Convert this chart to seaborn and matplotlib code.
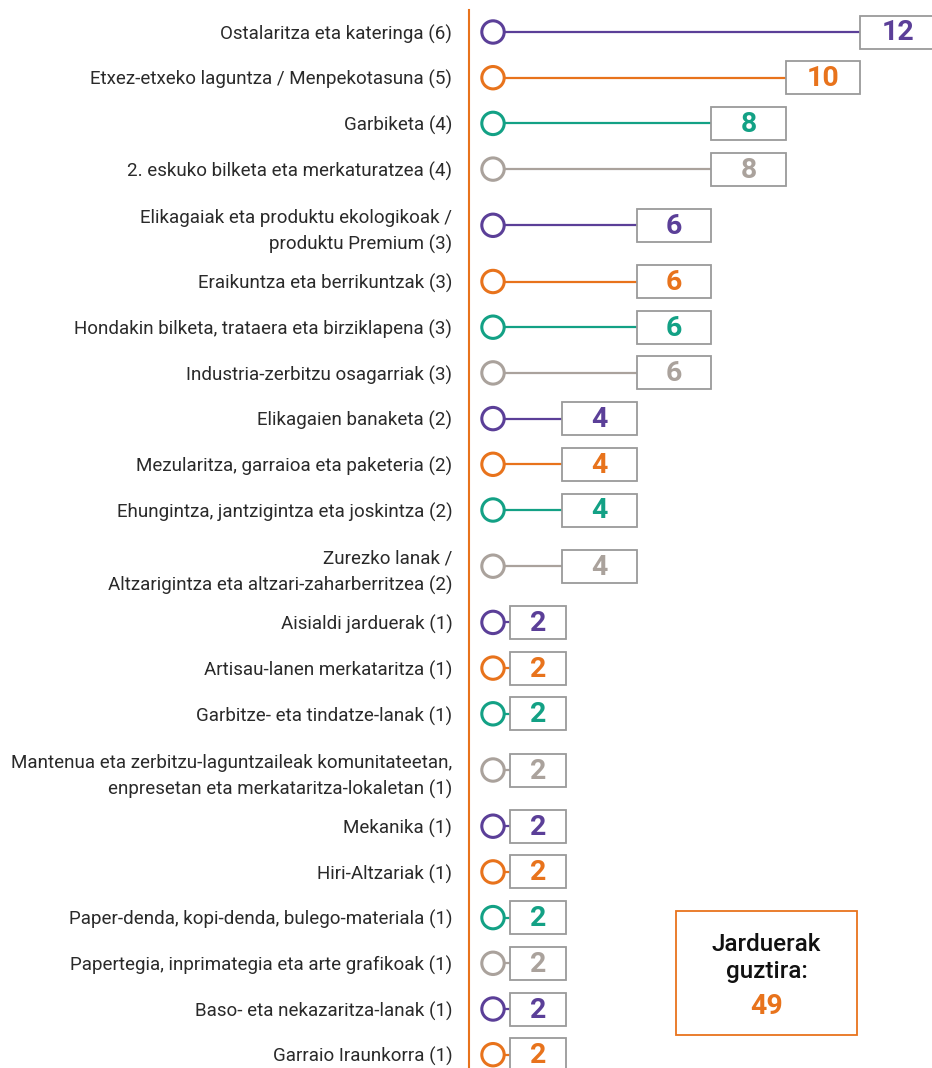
import numpy as np
import pandas as pd
import matplotlib
matplotlib.use("Agg")
import matplotlib.pyplot as plt
from matplotlib.patches import Rectangle
import seaborn as sns

categories = [
    "Ostalaritza eta kateringa (6)",
    "Etxez-etxeko laguntza / Menpekotasuna (5)",
    "Garbiketa (4)",
    "2. eskuko bilketa eta merkaturatzea (4)",
    "Elikagaiak eta produktu ekologikoak /\nproduktu Premium (3)",
    "Eraikuntza eta berrikuntzak (3)",
    "Hondakin bilketa, trataera eta birziklapena (3)",
    "Industria-zerbitzu osagarriak (3)",
    "Elikagaien banaketa (2)",
    "Mezularitza, garraioa eta paketeria (2)",
    "Ehungintza, jantzigintza eta joskintza (2)",
    "Zurezko lanak /\nAltzarigintza eta altzari-zaharberritzea (2)",
    "Aisialdi jarduerak (1)",
    "Artisau-lanen merkataritza (1)",
    "Garbitze- eta tindatze-lanak (1)",
    "Mantenua eta zerbitzu-laguntzaileak komunitateetan,\nenpresetan eta merkataritza-lokaletan (1)",
    "Mekanika (1)",
    "Hiri-Altzariak (1)",
    "Paper-denda, kopi-denda, bulego-materiala (1)",
    "Papertegia, inprimategia eta arte grafikoak (1)",
    "Baso- eta nekazaritza-lanak (1)",
    "Garraio Iraunkorra (1)",
]
values = [12, 10, 8, 8, 6, 6, 6, 6, 4, 4, 4, 4, 2, 2, 2, 2, 2, 2, 2, 2, 2, 2]
total_label = "Jarduerak\nguztira:"
total_value = 49

palette = ["#5b3f98", "#e8731c", "#13a185", "#aaa29c"]
colors = [palette[i % 4] for i in range(len(values))]

# layout: vertical positions depend on number of lines per label
nlines = [c.count("\n") + 1 for c in categories]
ypos = [0.0]
for i in range(1, len(categories)):
    gap = 45.7 + 10.5 * ((nlines[i - 1] - 1) + (nlines[i] - 1))
    ypos.append(ypos[-1] + gap)
ypos = np.array(ypos)

df = pd.DataFrame({"cat": categories, "val": values, "y": ypos, "color": colors})

W, H = 932, 1068
fig = plt.figure(figsize=(W / 100, H / 100), dpi=100)
sns.set_style("white")
plt.rcParams["font.family"] = ["Roboto", "DejaVu Sans"]

ax_left_px = 469
ax_top_px = 10
ax = fig.add_axes([ax_left_px / W, 0, 1 - ax_left_px / W, 1 - ax_top_px / H])

# x scale: pixel = 488 + 37.24 * value
x0, k = 488.0, 37.24
ax.set_xlim((ax_left_px - x0) / k, (W - x0) / k)
ax.set_ylim(H - ax_top_px - 22, -22)

circle_x = (493 - x0) / k
box_w = 2.0
box_min_left = (510 - x0) / k
box_h = 33

for _, r in df.iterrows():
    left = max(r.val - box_w, box_min_left)
    right = max(r.val, (566 - x0) / k)
    ax.plot([circle_x, left], [r.y, r.y], color=r.color, lw=1.6, zorder=1,
            solid_capstyle="butt")
    ax.add_patch(Rectangle((left, r.y - box_h / 2), right - left, box_h,
                           facecolor="white", edgecolor="#9a9a9a", lw=1.3, zorder=2,
                           clip_on=False))
    ax.text((left + right) / 2, r.y + 1, str(r.val), ha="center", va="center",
            fontsize=20.5, fontweight="bold", color=r.color, zorder=3)

sns.scatterplot(data=df.assign(cx=circle_x), x="cx", y="y", hue="cat",
                palette=dict(zip(df.cat, df.color)), ax=ax, legend=False,
                s=260, facecolor="white", linewidth=2.2, zorder=4)
coll = ax.collections[-1]
coll.set_edgecolors(df.color.tolist())
coll.set_facecolors("white")

ax.set_yticks(ypos)
ax.set_yticklabels(categories, fontsize=13.5, color="#2a2a2a", linespacing=1.55)
ax.tick_params(axis="y", length=0, pad=12)
ax.set_xticks([])
ax.set_xlabel("")
ax.set_ylabel("")
for s in ["top", "right", "bottom"]:
    ax.spines[s].set_visible(False)
ax.spines["left"].set_color("#e8731c")
ax.spines["left"].set_linewidth(1.5)

# total box
bx0, by0, bx1, by1 = 676, 911, 857, 1035
fig.patches.append(Rectangle((bx0 / W, 1 - by1 / H), (bx1 - bx0) / W, (by1 - by0) / H,
                             transform=fig.transFigure, facecolor="white",
                             edgecolor="#e8731c", lw=1.3))
fig.text((bx0 + bx1) / 2 / W, 1 - 958 / H, total_label, ha="center", va="center",
         fontsize=17.5, fontweight="medium", color="#111111", linespacing=1.25)
fig.text((bx0 + bx1) / 2 / W, 1 - 1006 / H, str(total_value), ha="center", va="center",
         fontsize=20.5, fontweight="bold", color="#e8731c")

fig.savefig("out.png", dpi=100)
